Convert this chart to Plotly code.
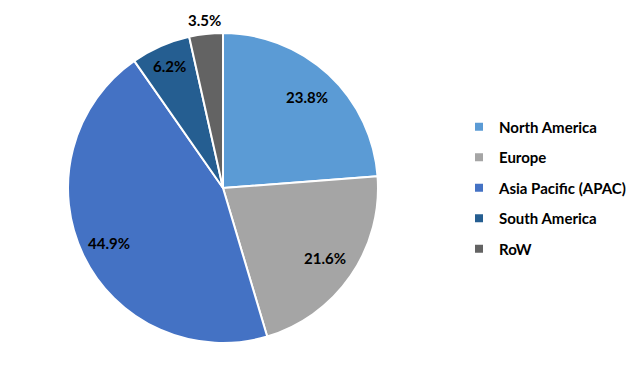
import math
import plotly.graph_objects as go

regions = ["North America", "Europe", "Asia Pacific (APAC)", "South America", "RoW"]
shares = [23.8, 21.6, 44.9, 6.2, 3.5]
colors = ["#5B9BD5", "#A5A5A5", "#4472C4", "#255E91", "#636363"]
label_radius = [0.80, 0.80, 0.82, 0.86, 1.09]  # fraction of pie radius for data labels

OFF = 8                      # default page body margin
W, H = 637 - OFF, 377 - OFF  # figure size inside the window
cx, cy, r = 223 - OFF, 188 - OFF, 155  # pie centre / radius in figure pixels

def px2paper(x, y):
    return x / W, 1 - y / H

fig = go.Figure()
fig.add_trace(go.Pie(
    labels=regions, values=shares, sort=False, direction="clockwise", rotation=0,
    marker=dict(colors=colors, line=dict(color="white", width=2)),
    textinfo="none", showlegend=False, hoverinfo="label+percent",
    domain=dict(x=[(cx - r) / W, (cx + r) / W], y=[(H - cy - r) / H, (H - cy + r) / H]),
))

total = sum(shares)
cum = 0.0
for v, k in zip(shares, label_radius):
    mid = (cum + v / 2) / total * 2 * math.pi
    cum += v
    ax, ay = px2paper(cx + k * r * math.sin(mid), cy - k * r * math.cos(mid))
    fig.add_annotation(
        x=ax, y=ay, xref="paper", yref="paper",
        text=f"{v:.1f}%", showarrow=False, xanchor="center", yanchor="middle",
        font=dict(family="Lato", size=15, color="black", weight="bold"),
    )

for i, (name, c) in enumerate(zip(regions, colors)):
    fig.add_trace(go.Scatter(
        x=[None], y=[None], mode="markers", name=name, legendgroup=f"g{i}",
        marker=dict(symbol="square", size=8, color=c),
    ))

lx, ly = px2paper(459 - OFF, 188 - OFF)
fig.update_layout(
    width=W, height=H, margin=dict(l=0, r=0, t=0, b=0),
    paper_bgcolor="white", plot_bgcolor="white",
    xaxis=dict(visible=False), yaxis=dict(visible=False),
    legend=dict(x=lx, y=ly, xanchor="left", yanchor="middle",
                font=dict(family="Lato", size=15, color="black", weight="bold"),
                tracegroupgap=8, itemwidth=30),
)
fig.write_html("out.html")
